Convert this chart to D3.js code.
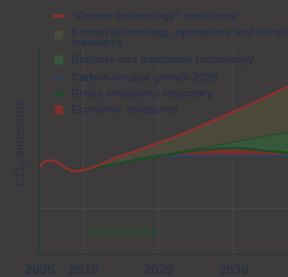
<!DOCTYPE html>
<html><head><meta charset="utf-8">
<script src="https://cdn.jsdelivr.net/npm/d3@7"></script>
<style>
html,body{margin:0;padding:0;background:#3d3b3c;overflow:hidden;}
svg{display:block;}
</style></head>
<body>
<script>
// ---- data ----
const frozenYears  = [2005, 2006, 2007, 2008, 2009, 2010, 2015, 2020, 2025, 2030, 2035, 2040];
const frozenValues = [42.0, 45.2, 44.6, 41.6, 40.0, 40.6, 47.2, 53.5, 60.6, 68.6, 76.8, 85.5];
const techYears    = [2010, 2040];
const techValues   = [40.6, 60.7];
const grossYears   = [2010, 2015, 2020, 2025, 2030, 2035, 2040];
const grossValues  = [40.6, 44.0, 47.3, 50.0, 51.2, 49.6, 47.6];
const cngYears     = [2020, 2040];
const cngValues    = [47.3, 47.3];
const tickYears    = [2005, 2010, 2020, 2030];
const gridYears    = [2010, 2020, 2030];
const gridValues   = [22];
const legendItems  = [
  {label: "\u201cFrozen technology\u201d emissions", kind: "line", color: "#84302d"},
  {label: "Known technology, operations and infrastructure|measures", kind: "box", color: "#4b4a3a"},
  {label: "Biofuels and additional technology", kind: "box", color: "#38583b"},
  {label: "Carbon-neutral growth 2020", kind: "line", color: "#2e4259"},
  {label: "Gross emissions trajectory", kind: "line", color: "#1f4a2b"},
  {label: "Economic measures", kind: "box", color: "#7a302b"}
];

const W = 288, H = 277;
const svg = d3.select("body").append("svg").attr("width", W).attr("height", H);

const x = d3.scaleLinear().domain([2005, 2010, 2040]).range([39, 83, 308]);
const y = d3.scaleLinear().domain([0, 100]).range([254, 47]);

const zip = (a, b) => a.map((d, i) => ({year: d, v: b[i]}));
const frozen = zip(frozenYears, frozenValues);
const tech = zip(techYears, techValues);
const gross = zip(grossYears, grossValues);
const cng = zip(cngYears, cngValues);

const techAt = yr => d3.scaleLinear().domain(techYears).range(techValues)(yr);
const curve = d3.curveMonotoneX;

// gridlines
const grid = svg.append("g").attr("stroke", "#474546").attr("stroke-width", 1);
grid.selectAll("line.v").data(gridYears).join("line")
  .attr("x1", d => x(d)).attr("x2", d => x(d)).attr("y1", y(100)).attr("y2", y(0));
grid.selectAll("line.h").data(gridValues).join("line")
  .attr("x1", x(2005)).attr("x2", W).attr("y1", d => y(d)).attr("y2", d => y(d));

// Known technology area: between frozen and tech line
svg.append("path")
  .datum(frozen.filter(d => d.year >= 2010))
  .attr("d", d3.area().x(d => x(d.year)).y0(d => y(techAt(d.year))).y1(d => y(d.v)).curve(curve))
  .attr("fill", "#4b4a3a");

// Biofuels area: between tech line and gross
svg.append("path")
  .datum(gross)
  .attr("d", d3.area().x(d => x(d.year)).y0(d => y(d.v)).y1(d => y(techAt(d.year))).curve(curve))
  .attr("fill", "#38583b");

// Economic measures: between gross and cng
svg.append("path")
  .datum(gross.filter(d => d.year >= 2020))
  .attr("d", d3.area().x(d => x(d.year)).y0(y(cngValues[0])).y1(d => y(Math.max(d.v, cngValues[0]))).curve(curve))
  .attr("fill", "#7a302b");

// lines
const line = d3.line().x(d => x(d.year)).y(d => y(d.v)).curve(curve);
svg.append("path").datum(tech).attr("d", line)
  .attr("fill", "none").attr("stroke", "#2c4a30").attr("stroke-width", 1.2);
svg.append("path").datum(cng).attr("d", line)
  .attr("fill", "none").attr("stroke", "#2e4259").attr("stroke-width", 2.5);
svg.append("path").datum(gross).attr("d", line)
  .attr("fill", "none").attr("stroke", "#1f4a2b").attr("stroke-width", 2.5);
svg.append("path").datum(frozen).attr("d", line)
  .attr("fill", "none").attr("stroke", "#87322e").attr("stroke-width", 2.5);

// axes
svg.append("line").attr("x1", x(2005)).attr("x2", x(2005)).attr("y1", y(100)).attr("y2", y(0))
  .attr("stroke", "#2c3830").attr("stroke-width", 1.2);
svg.append("line").attr("x1", x(2005) - 4).attr("x2", W).attr("y1", y(0)).attr("y2", y(0))
  .attr("stroke", "#2c3830").attr("stroke-width", 1.2);

const xAxis = svg.append("g").attr("transform", `translate(0,${y(0)})`)
  .call(d3.axisBottom(x).tickValues(tickYears).tickFormat(d3.format("d")).tickSize(0).tickPadding(10));
xAxis.select(".domain").remove();
xAxis.selectAll("text")
  .attr("fill", "#2b3347")
  .style("font-family", "'Liberation Sans', Arial, sans-serif")
  .style("font-weight", "bold").style("font-size", "13.5px");

// y label
const yl = svg.append("text")
  .attr("transform", `translate(24,143) rotate(-90)`)
  .attr("text-anchor", "middle")
  .attr("fill", "#2b3347")
  .style("font-family", "'Liberation Sans', Arial, sans-serif")
  .style("font-size", "13px");
yl.append("tspan").text("CO");
yl.append("tspan").text("2").attr("dy", 3).style("font-size", "9px");
yl.append("tspan").text(" emissions").attr("dy", -3);

// schematic
svg.append("text").attr("x", 123).attr("y", 236).attr("text-anchor", "middle")
  .attr("fill", "#284a30")
  .style("font-family", "'Liberation Sans', Arial, sans-serif")
  .style("font-weight", "bold").style("font-style", "italic").style("font-size", "12px")
  .text("(schematic)");

// legend
const rowCenters = [16, 35, 60, 77, 94, 110];
const baselines = [20, 35.5, 63, 81, 97, 113];
const lg = svg.append("g");
legendItems.forEach((it, i) => {
  if (it.kind === "line") {
    lg.append("line").attr("x1", 53).attr("x2", 65).attr("y1", rowCenters[i]).attr("y2", rowCenters[i])
      .attr("stroke", it.color).attr("stroke-width", 3);
  } else {
    lg.append("rect").attr("x", 54.5).attr("y", rowCenters[i] - 4.5).attr("width", 9).attr("height", 9)
      .attr("fill", it.color);
  }
  const parts = it.label.split("|");
  const t = lg.append("text").attr("x", 71).attr("y", baselines[i])
    .attr("fill", "#2b3347")
    .style("font-family", "'Liberation Sans', Arial, sans-serif")
    .style("font-weight", "bold").style("font-size", "11px");
  parts.forEach((p, j) => {
    t.append("tspan").attr("x", 71).attr("dy", j === 0 ? 0 : 10).text(p);
  });
});
</script>
</body></html>
